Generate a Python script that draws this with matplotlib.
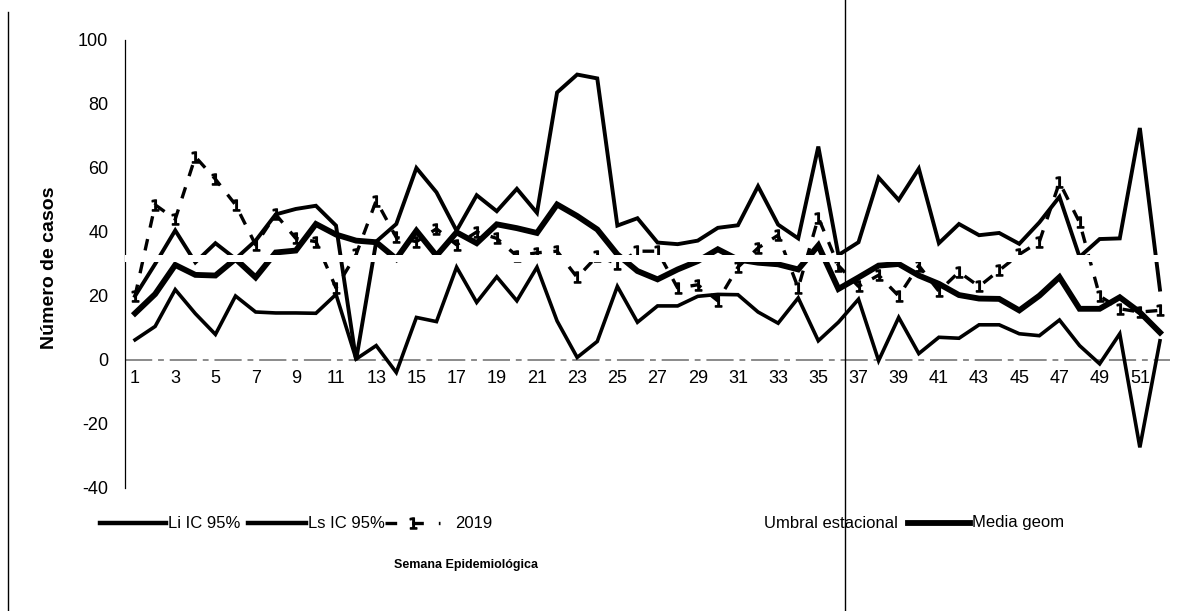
import matplotlib
matplotlib.use("Agg")
import matplotlib.pyplot as plt
from matplotlib.lines import Line2D

plt.rcParams['font.family'] = ['Liberation Sans', 'DejaVu Sans']

# Semanas epidemiológicas
semanas = list(range(1, 53))

li_ic95 = [6.3, 10.5, 22, 14.5, 8, 20, 15, 14.7, 14.7, 14.6,
           20.5, 0.3, 4.5, -3.9, 13.3, 12, 29, 18, 26, 18.5,
           29, 12.2, 0.8, 5.8, 23, 11.8, 16.9, 16.9, 19.9, 20.5,
           20.4, 15, 11.5, 19.4, 6, 11.8, 19, -0.2, 13.3, 2,
           7.1, 6.8, 11, 11, 8.2, 7.6, 12.5, 4.5, -1.2, 8.2,
           -27.3, 6]

ls_ic95 = [20, 30, 40.5, 30.5, 36.5, 31.6, 37.3, 45.5, 47.2, 48.2,
           42, 0, 37, 42.5, 60, 52.4, 40.4, 51.5, 46.5, 53.5,
           46, 83.6, 89.2, 88, 42, 44.3, 36.7, 36.2, 37.3, 41.3,
           42.1, 54.3, 42.3, 38, 66.7, 32.8, 36.8, 57, 50, 59.8,
           36.5, 42.5, 39, 39.7, 36.3, 43, 51, 32.2, 37.8, 38,
           72.5, 22]

casos_2019 = [20, 48.5, 44, 63.5, 56.5, 48.5, 36, 45.5, 38, 37,
              22.5, 33, 49.8, 38.3, 37, 41, 36, 40, 38, 32.5,
              33.5, 34, 25.8, 32.5, 30, 34, 34, 22.5, 23.5, 18.5,
              29, 35, 39, 22.5, 44.5, 29.5, 23, 26.5, 20, 29.5,
              21.5, 27.5, 23, 28, 33, 37, 55.5, 43, 20, 16,
              15, 15.5]

media_geom = [14.6, 20.6, 29.7, 26.6, 26.4, 31.6, 25.8, 33.6, 34.2, 42.5,
              39.2, 37.3, 36.8, 31.6, 40.4, 32.6, 39.9, 36.5, 42.4, 41.2,
              39.7, 48.6, 45, 40.8, 33, 27.8, 25.2, 28.3, 30.9, 34.6,
              31.4, 30.4, 29.9, 28.3, 35.8, 22.2, 25.8, 29.5, 30, 26.4,
              23.8, 20.3, 19.2, 19.1, 15.5, 20.1, 25.9, 16, 16, 19.6,
              14.9, 8.6]

y_ticks = [-40, -20, 0, 20, 40, 60, 80, 100]
x_ticks = list(range(1, 53, 2))

W, H = 1183, 611
fig = plt.figure(figsize=(W / 100, H / 100), dpi=100)
fig.patch.set_facecolor('white')

ax = fig.add_axes([125 / W, 1 - 488 / H, (1170 - 125) / W, (488 - 40) / H])
ax.set_xlim(0.5, 52.5)
ax.set_ylim(-40, 100)

ax.plot(semanas, li_ic95, color='black', lw=2.6, solid_joinstyle='miter', zorder=3)
ax.plot(semanas, ls_ic95, color='black', lw=2.8, solid_joinstyle='miter', zorder=3)
ax.plot(semanas, casos_2019, color='black', lw=2.4, dashes=(3.5, 3.5),
        marker='$1$', markersize=8, zorder=4)
ax.plot(semanas, media_geom, color='black', lw=4.2, solid_joinstyle='miter', zorder=3)

# eje horizontal en cero
ax.axhline(0, color='#8a8a8a', lw=1.4, ls=(0, (14, 3, 3, 3)), zorder=1)
# franja clara de la copia escaneada
ax.axhspan(30.6, 32.8, color='white', zorder=6, lw=0)

for side in ('top', 'right', 'bottom'):
    ax.spines[side].set_visible(False)
ax.spines['bottom'].set_position(('data', 0))
ax.spines['left'].set_linewidth(0.9)
ax.spines['left'].set_color('black')

ax.set_yticks(y_ticks)
ax.set_yticklabels([str(v) for v in y_ticks])
ax.set_xticks(x_ticks)
ax.set_xticklabels([str(v) for v in x_ticks])
ax.tick_params(axis='y', length=0, pad=12, labelsize=13)
ax.tick_params(axis='x', length=0, pad=7, labelsize=13)

ax.set_ylabel('Número de casos', fontsize=14, fontweight='bold')
ax.yaxis.set_label_coords(-0.064, 0.491)

# leyenda
ly = 1 - 523 / H
def fx(px):
    return px / W

fig.add_artist(Line2D([fx(100), fx(166)], [ly, ly], color='black', lw=3.2))
fig.text(fx(168), ly, 'Li IC 95%', fontsize=12, va='center', ha='left')
fig.add_artist(Line2D([fx(248), fx(306)], [ly, ly], color='black', lw=3.2))
fig.text(fx(308), ly, 'Ls IC 95%', fontsize=12, va='center', ha='left')
fig.add_artist(Line2D([fx(385), fx(440)], [ly, ly], color='black', lw=2.4,
                      dashes=(3.5, 4.5)))
fig.add_artist(Line2D([fx(412.5)], [ly], color='none', marker='$1$', markersize=8,
                      markerfacecolor='black', markeredgecolor='black'))
fig.text(fx(455), ly, '2019', fontsize=12, va='center', ha='left')
fig.text(fx(764), ly, 'Umbral estacional', fontsize=12, va='center', ha='left')
fig.add_artist(Line2D([fx(908), fx(970)], [ly, ly], color='black', lw=4.2))
fig.text(fx(972), ly, 'Media geom', fontsize=12, va='center', ha='left')

fig.text(fx(466), 1 - 565 / H, 'Semana Epidemiológica', fontsize=9,
         fontweight='bold', ha='center', va='center')

# bordes de la tabla que contiene el gráfico
fig.add_artist(Line2D([fx(8), fx(8)], [0, 1 - 12 / H], color='black', lw=1.0))
fig.add_artist(Line2D([fx(845), fx(845)], [0, 1], color='black', lw=1.0))

fig.savefig('out.png', dpi=100, facecolor='white')
